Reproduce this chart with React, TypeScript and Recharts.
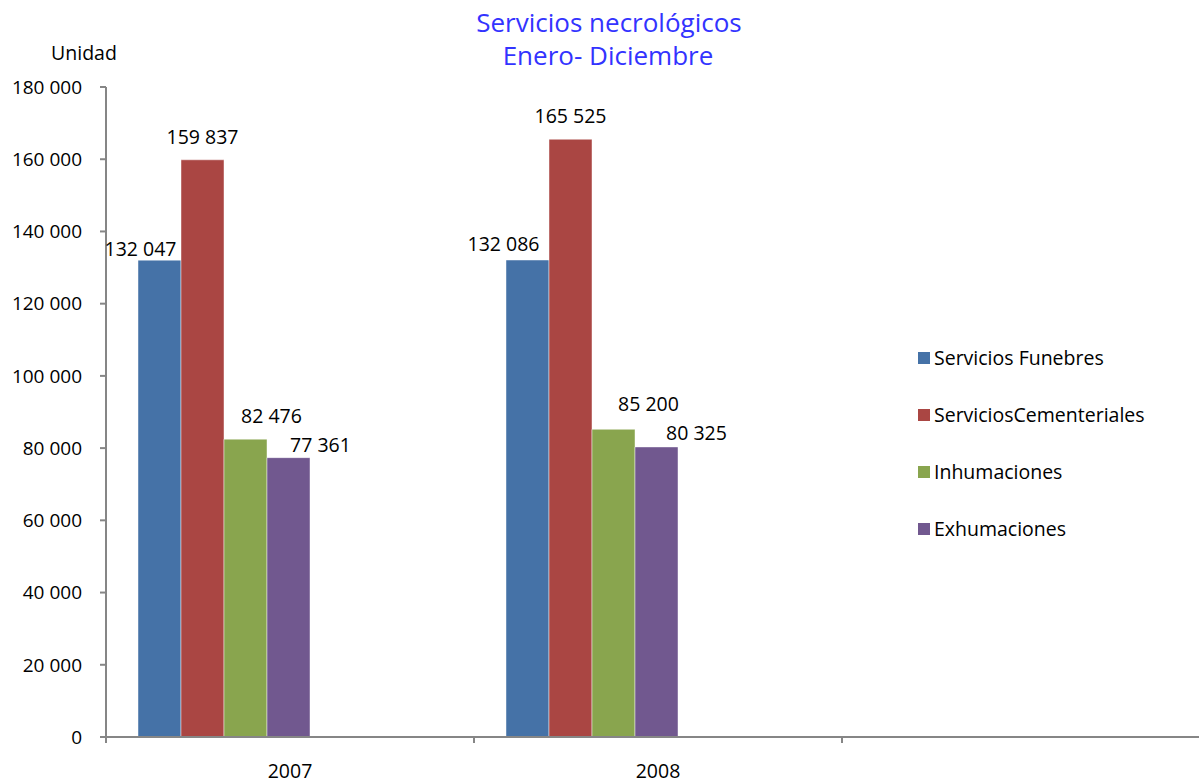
import { BarChart, Bar, XAxis, YAxis, Legend, LabelList } from 'recharts';

const years = ['2007', '2008', ''];
const funebres = [132047, 132086, null];
const cementeriales = [159837, 165525, null];
const inhumaciones = [82476, 85200, null];
const exhumaciones = [77361, 80325, null];
const yTicks = [0, 20000, 40000, 60000, 80000, 100000, 120000, 140000, 160000, 180000];

const data = years.map((year, i) => ({
  year,
  funebres: funebres[i],
  cementeriales: cementeriales[i],
  inhumaciones: inhumaciones[i],
  exhumaciones: exhumaciones[i],
}));

const FONT = '"Open Sans", "Noto Sans", sans-serif';
const AXIS = '#868686';
const CHART_W = 1212;
const CHART_H = 783;
const AXIS_W = 106;
const RIGHT = 2;
const BAND = (CHART_W - AXIS_W - RIGHT) / years.length;
const TXT = 19.5;

const series = [
  { key: 'funebres', name: 'Servicios Funebres', color: '#4572A7' },
  { key: 'cementeriales', name: 'ServiciosCementeriales', color: '#AA4643' },
  { key: 'inhumaciones', name: 'Inhumaciones', color: '#89A54E' },
  { key: 'exhumaciones', name: 'Exhumaciones', color: '#71588F' },
];

// manual label nudges (dx, dy from bar top), as placed in the original sheet
const labelShift: Record<string, [number, number][]> = {
  funebres: [[-19, -12], [-24, -17]],
  cementeriales: [[0, -23], [0, -24]],
  inhumaciones: [[26, -24], [35, -26]],
  exhumaciones: [[32, -13], [40, -14]],
};

const fmt = (v: number) => String(v).replace(/\B(?=(\d{3})+(?!\d))/g, ' ');

const makeLabel = (key: string) => (props: any) => {
  const { x, y, width, value, index } = props;
  if (value == null) return null;
  const [dx, dy] = labelShift[key][index] || [0, -12];
  return (
    <text
      x={Number(x) + Number(width) / 2 + dx}
      y={Number(y) + dy}
      textAnchor="middle"
      dominantBaseline="central"
      fontFamily={FONT}
      fontSize={TXT}
      fill="#000"
    >
      {fmt(value)}
    </text>
  );
};

const XTick = (props: any) => {
  const { x, y, payload } = props;
  const edge = x - BAND / 2;
  return (
    <g>
      <line x1={edge} x2={edge} y1={y} y2={y + 6} stroke={AXIS} strokeWidth={2} />
      <text x={x} y={y + 33} textAnchor="middle" dominantBaseline="central" fontFamily={FONT} fontSize={TXT} fill="#000">
        {payload.value}
      </text>
    </g>
  );
};

const LegendBox = () => (
  <div style={{ fontFamily: FONT, fontSize: TXT, color: '#000' }}>
    {series.map((s) => (
      <div key={s.key} style={{ display: 'flex', alignItems: 'center', height: 57 }}>
        <span style={{ width: 12, height: 12, background: s.color, marginRight: 4, display: 'inline-block' }} />
        <span>{s.name}</span>
      </div>
    ))}
  </div>
);

export default function App() {
  return (
    <div style={{ position: 'absolute', left: 0, top: 0, width: 1199, height: 783, overflow: 'hidden', background: '#fff' }}>
      <BarChart
        width={CHART_W}
        height={CHART_H}
        data={data}
        margin={{ top: 87, right: RIGHT, left: 0, bottom: 0 }}
        barCategoryGap={32}
        barGap={0}
      >
        <text x={609} y={22} textAnchor="middle" dominantBaseline="central" fontFamily={FONT} fontSize={26} fill="#3333FF">
          Servicios necrológicos
        </text>
        <text x={608} y={55} textAnchor="middle" dominantBaseline="central" fontFamily={FONT} fontSize={26} fill="#3333FF">
          Enero- Diciembre
        </text>
        <text x={84} y={52} textAnchor="middle" dominantBaseline="central" fontFamily={FONT} fontSize={TXT} fill="#000">
          Unidad
        </text>
        <XAxis
          dataKey="year"
          height={46}
          axisLine={{ stroke: AXIS, strokeWidth: 2 }}
          tickLine={false}
          tickSize={0}
          tickMargin={0}
          interval={0}
          tick={<XTick />}
        />
        <YAxis
          width={AXIS_W}
          domain={[0, 180000]}
          ticks={yTicks}
          interval={0}
          tickFormatter={fmt}
          axisLine={{ stroke: AXIS, strokeWidth: 2 }}
          tickLine={{ stroke: AXIS, strokeWidth: 2 }}
          tickSize={6}
          tickMargin={18}
          tick={{ fill: '#000', fontFamily: FONT, fontSize: 19 }}
        />
        <Legend
          layout="horizontal"
          verticalAlign="middle"
          align="center"
          content={<LegendBox />}
          wrapperStyle={{ position: 'absolute', left: 918, top: 329, width: 278 }}
        />
        {series.map((s) => (
          <Bar
            key={s.key}
            dataKey={s.key}
            name={s.name}
            fill={s.color}
            stroke="rgba(255,255,255,0.45)"
            strokeWidth={1}
            isAnimationActive={false}
          >
            <LabelList dataKey={s.key} content={makeLabel(s.key)} />
          </Bar>
        ))}
        <Bar dataKey="empty1" legendType="none" fill="none" isAnimationActive={false} />
        <Bar dataKey="empty2" legendType="none" fill="none" isAnimationActive={false} />
        <Bar dataKey="empty3" legendType="none" fill="none" isAnimationActive={false} />
      </BarChart>
    </div>
  );
}
